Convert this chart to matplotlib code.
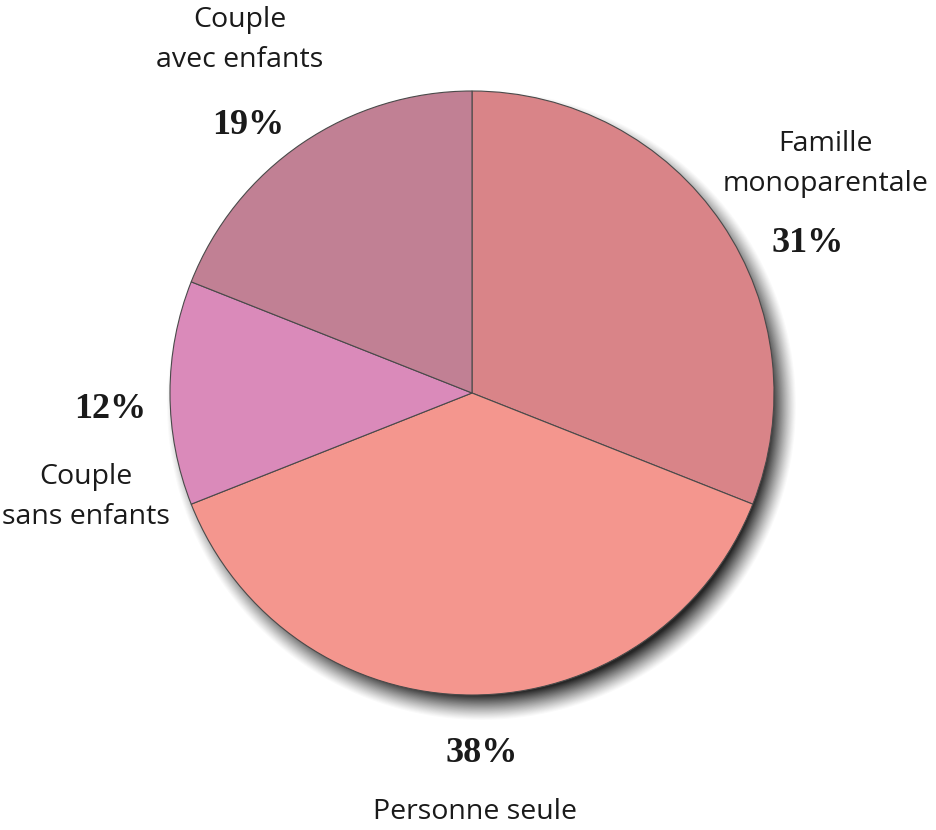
import matplotlib
matplotlib.use("Agg")
import matplotlib.pyplot as plt
import numpy as np

# ── Data
categories = ["Famille\nmonoparentale", "Personne seule", "Couple\nsans enfants", "Couple\navec enfants"]
shares     = [31, 38, 12, 19]
pct_labels = ["31%", "38%", "12%", "19%"]
colors     = ["#D98488", "#F4968E", "#DA8ABA", "#C18094"]

# ── Layout (pixel space, y measured from top)
W, H = 937, 830
CX, CY, R = 472, 393, 302
cat_pos = [(826, 164), (475, 812), (86, 497), (240, 40)]
pct_pos = [(808, 243), (482, 753), (110, 410), (248, 125)]

fig = plt.figure(figsize=(W / 100, H / 100), dpi=100)
ax = fig.add_axes([0, 0, 1, 1])
ax.set_xlim(0, W)
ax.set_ylim(0, H)
ax.set_aspect("equal")
ax.axis("off")

# ── Soft drop shadow (offset right/down)
yy, xx = np.mgrid[0:H, 0:W]
d = np.hypot(xx - (CX + 9), yy - (CY + 12))
blur = 13.0
alpha = np.clip((R + blur - d) / (2 * blur), 0, 1) ** 1.2
shadow = np.zeros((H, W, 4))
shadow[..., :3] = 0.15
shadow[..., 3] = alpha
ax.imshow(shadow, extent=(0, W, 0, H), origin="upper", zorder=0, interpolation="bilinear")

# ── Pie
ax.pie(shares, colors=colors, startangle=90, counterclock=False,
       center=(CX, H - CY), radius=R, frame=True,
       wedgeprops=dict(edgecolor="#4a4a4a", linewidth=0.8))
ax.set_xlim(0, W)
ax.set_ylim(0, H)
ax.axis("off")

for (x, y), txt in zip(cat_pos, categories):
    ax.text(x, H - y, txt, ha="center", va="center", fontsize=20.5,
            family="Open Sans", color="#1a1a1a", linespacing=1.55, zorder=5)
for (x, y), txt in zip(pct_pos, pct_labels):
    ax.text(x, H - y, txt, ha="center", va="center", fontsize=26,
            family="Liberation Serif", weight="bold", color="#1a1a1a", zorder=5)

fig.savefig("out.png", dpi=100, facecolor="white")
